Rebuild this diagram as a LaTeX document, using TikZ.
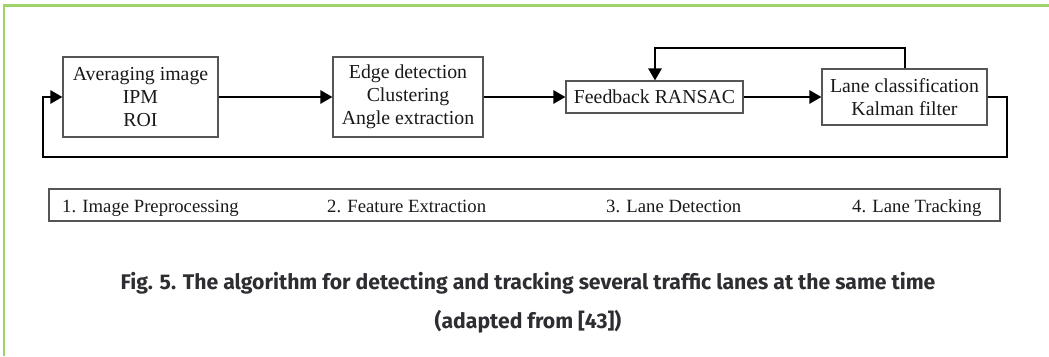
\documentclass[tikz,border=0pt]{standalone}
\usepackage{fontspec}
\setmainfont{Liberation Serif}
\newfontfamily\capfont{Fira Sans}
\usetikzlibrary{arrows.meta,calc}
\definecolor{framegreen}{RGB}{158,211,105}
\definecolor{boxgray}{RGB}{85,85,85}
\definecolor{captext}{RGB}{45,45,50}
\definecolor{diagtext}{RGB}{25,25,25}
\tikzset{
  stepbox/.style={draw=boxgray, line width=1.1pt, fill=white, align=center,
    inner sep=0pt, text=diagtext, font=\fontsize{19.8}{23}\selectfont},
  flow/.style={line width=2.6pt, -{Triangle[length=12pt,width=13pt]}},
  legendtext/.style={anchor=base west, inner sep=0pt, text=diagtext,
    font=\fontsize{18.7}{22}\selectfont},
  captionline/.style={anchor=center, inner sep=0pt, text=captext,
    font=\capfont\bfseries\fontsize{21.2}{25}\selectfont}
}
\begin{document}
\begin{tikzpicture}[x=1pt,y=-1pt]
\useasboundingbox (0,0) rectangle (1049,356);
% green frame
\draw[framegreen, line width=2.2pt] (1049,5.5) -- (4,5.5) -- (4,356);

% process boxes
\node[stepbox, minimum width=155pt, minimum height=80pt] (b1) at (140.5,97)
  {Averaging image\\IPM\\ROI};
\node[stepbox, minimum width=150pt, minimum height=80pt] (b2) at (408,97)
  {Edge detection\\Clustering\\Angle extraction};
\node[stepbox, minimum width=177pt, minimum height=32pt] (b3) at (654.5,97)
  {Feedback RANSAC};
\node[stepbox, minimum width=165pt, minimum height=56pt] (b4) at (904.5,97)
  {Lane classification\\Kalman filter};

% forward arrows
\draw[flow] (b1.east) -- (b2.west);
\draw[flow] (b2.east) -- (b3.west);
\draw[flow] (b3.east) -- (b4.west);

% feedback loop over the top
\coordinate (f1) at (905,48);
\coordinate (f2) at (655,48);
\draw[flow] (b4.north -| f1) -- (f1) -- (f2) -- (b3.north -| f2);

% return loop underneath
\coordinate (r1) at (1007,97);
\coordinate (r2) at (1007,157);
\coordinate (r3) at (43,157);
\coordinate (r4) at (43,97);
\draw[flow] (b4.east) -- (r1) -- (r2) -- (r3) -- (r4) -- (b1.west);

% legend bar
\node[draw=boxgray, line width=1.1pt, minimum width=951pt, minimum height=32pt,
  inner sep=0pt] (legend) at (524.5,205) {};
\node[legendtext] (l1) at (62,212) {1. Image Preprocessing};
\node[legendtext] (l2) at (327,212) {2. Feature Extraction};
\node[legendtext] (l3) at (606,212) {3. Lane Detection};
\node[legendtext] (l4) at (852,212) {4. Lane Tracking};

% caption
\node[captionline] (c1) at (528,283)
  {Fig. 5. The algorithm for detecting and tracking several traffic lanes at the same time};
\node[captionline] (c2) at (528,322) {(adapted from [43])};
\end{tikzpicture}
\end{document}
